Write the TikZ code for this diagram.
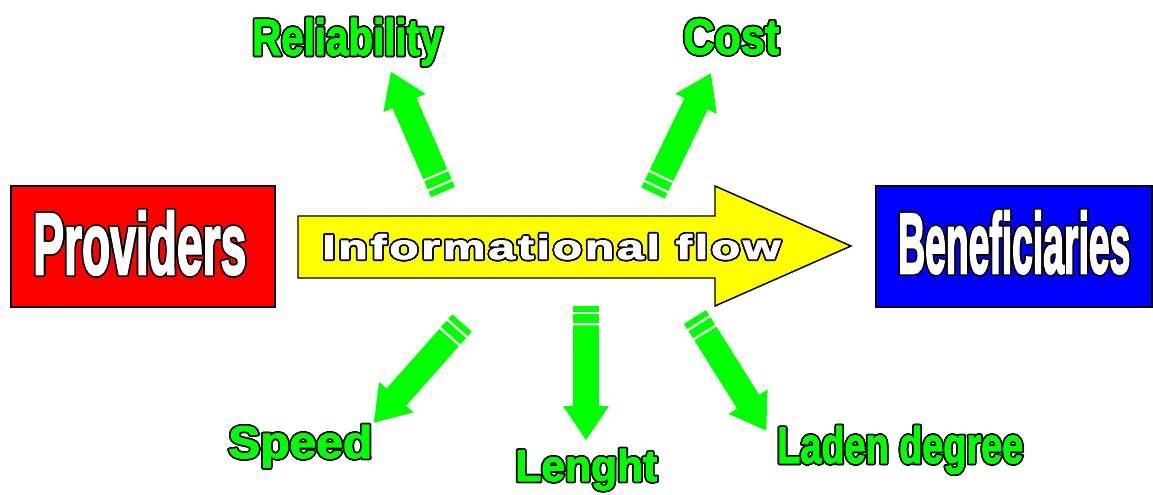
\documentclass[tikz,border=0pt]{standalone}
\usepackage{fontspec}
\setmainfont{Liberation Sans}
\newfontfamily\heavyfont{Liberation Sans}[FakeBold=2.5]
\newfontfamily\narrowfont{Liberation Sans}[FakeBold=3]
\newfontfamily\widefont{Liberation Sans}[LetterSpace=6,FakeBold=2.5]
\usepackage{graphicx}
\usepackage[copies]{contour}
\contourlength{1.2pt}
\contournumber{24}

\definecolor{provred}{RGB}{255,0,0}
\definecolor{benblue}{RGB}{0,0,255}
\definecolor{flowyellow}{RGB}{255,255,0}
\definecolor{flowgreen}{RGB}{0,255,0}

% one pixel of the drawing
\newdimen\pxunit \pxunit=0.75pt
% text squeezed into a w x h box, with a black rim
\newcommand{\rimword}[3]{\contour{black}{\resizebox{#1\pxunit}{#2\pxunit}{#3}}}

\tikzset{
  partybox/.style={draw=black, line width=0.9pt, inner sep=0pt},
  bigword/.style={anchor=base west, inner sep=0pt, text=white, font=\narrowfont\bfseries},
  factor/.style={anchor=base west, inner sep=0pt, text=flowgreen, font=\heavyfont\bfseries},
  flowshape/.style={draw=black, line width=1.1pt, fill=flowyellow, line join=miter},
  % green arrow with a striped tail, pointing along +x, #1 = length
  pencil/.pic={
    \fill[flowgreen] (0,-13) rectangle (6,13);
    \fill[flowgreen] (8.5,-13) rectangle (17,13);
    \fill[flowgreen] (19.5,-13) -- (#1-34,-13) -- (#1-34,-23) -- (#1,0)
      -- (#1-34,23) -- (#1-34,13) -- (19.5,13) -- cycle;
  }
}

\begin{document}
\begin{tikzpicture}[x=0.75pt,y=0.75pt,yscale=-1,xscale=1]
  \useasboundingbox (0,0) rectangle (1153,495);

  %Shape: Rectangle [providers]
  \node[partybox, fill=provred, minimum width=264\pxunit, minimum height=121\pxunit] (providers) at (143,246.5) {};
  %Shape: Rectangle [beneficiaries]
  \node[partybox, fill=benblue, minimum width=276\pxunit, minimum height=121\pxunit] (beneficiaries) at (1014,246.5) {};

  %Shape: Right Arrow [flow]
  \draw[flowshape] (298,216) -- (715,216) -- (715,186) -- (851,246) -- (715,306) -- (715,278) -- (298,278) -- cycle;

  %Green arrows round the flow
  \coordinate (relTail) at (443,192);
  \coordinate (costTail) at (653,193);
  \coordinate (speedTail) at (462,323);
  \coordinate (lenTail) at (586,306);
  \coordinate (ladenTail) at (695,317);
  \pic[rotate=113.4] at (relTail) {pencil=131};
  \pic[rotate=64.2] at (costTail) {pencil=133};
  \pic[rotate=-131.5] at (speedTail) {pencil=133};
  \pic[rotate=-90] at (lenTail) {pencil=134};
  \pic[rotate=-57.9] at (ladenTail) {pencil=134};

  % Text Node
  \node[bigword] (provtext) at (33,274) {\rimword{213}{63}{Providers}};
  % Text Node
  \node[bigword] (bentext) at (898,273) {\rimword{232}{62}{Beneficiaries}};
  % Text Node
  \node[anchor=base west, inner sep=0pt, text=white, font=\widefont\bfseries] (flowtext) at (322,259) {\rimword{458}{25}{Informational flow}};

  % Text Node
  \node[factor] (reliability) at (252,55) {\rimword{190}{37}{Reliability}};
  % Text Node
  \node[factor] (cost) at (683,54) {\rimword{96}{35}{Cost}};
  % Text Node
  \node[factor] (speed) at (228,458) {\rimword{144}{33}{Speed}};
  % Text Node
  \node[factor] (lenght) at (515,481) {\rimword{142}{32}{Lenght}};
  % Text Node
  \node[factor] (laden) at (777,463) {\rimword{246}{37}{Laden degree}};
\end{tikzpicture}
\end{document}
